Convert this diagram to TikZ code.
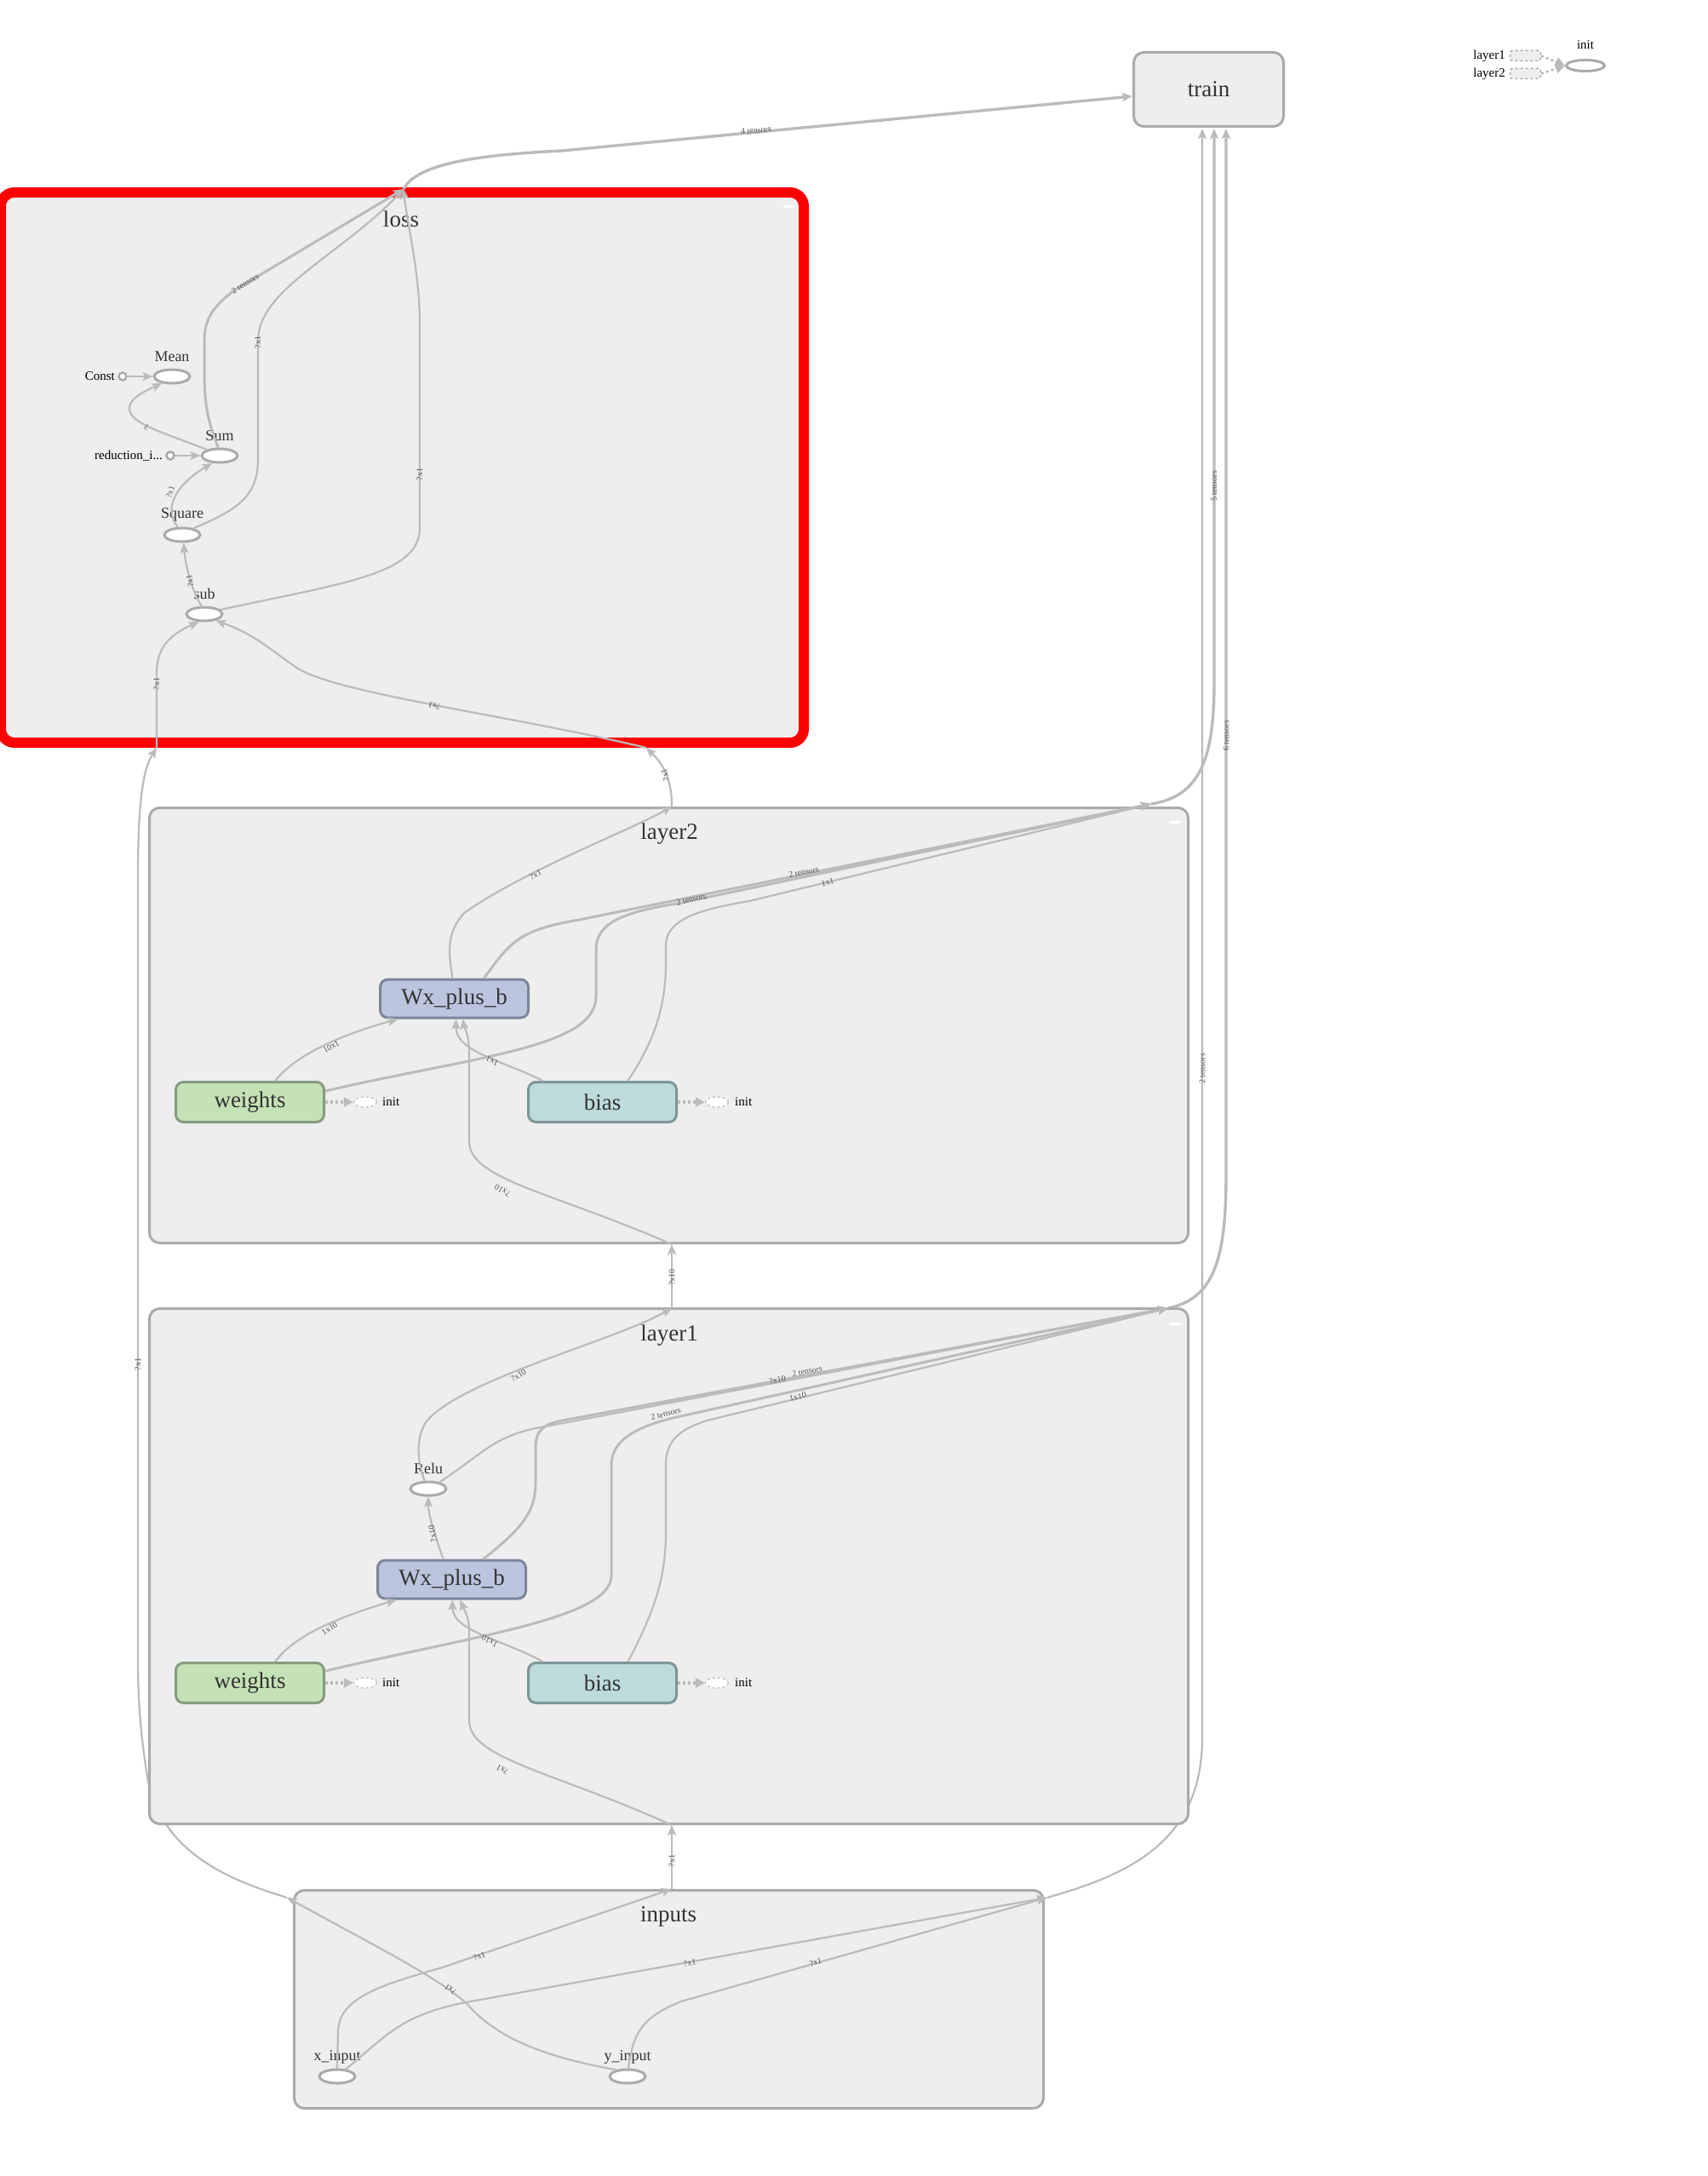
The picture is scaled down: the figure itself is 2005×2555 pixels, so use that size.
\documentclass[tikz,border=0pt]{standalone}
\usepackage{fontspec}
\setmainfont{Liberation Serif}
\usetikzlibrary{shapes.geometric,arrows.meta,calc}
\definecolor{grpfill}{HTML}{EEEEEE}
\definecolor{grpline}{HTML}{AAAAAA}
\definecolor{edgec}{HTML}{BBBBBB}
\definecolor{txt}{HTML}{333333}
\definecolor{elabc}{HTML}{555555}
\definecolor{wxfill}{HTML}{BBC5DE}
\definecolor{wxline}{HTML}{7C8599}
\definecolor{wfill}{HTML}{C5E2B6}
\definecolor{wline}{HTML}{879B7E}
\definecolor{bfill}{HTML}{BEDBDB}
\definecolor{bline}{HTML}{7E9696}
\definecolor{opline}{HTML}{AAAAAA}
\definecolor{initline}{HTML}{C8C8C8}
\begin{document}
\begin{tikzpicture}[x=1pt,y=-1pt,
  grpbox/.style={draw=grpline,fill=grpfill,line width=3pt,rounded corners=12pt,inner sep=0pt},
  grplbl/.style={text=txt,font=\fontsize{27}{30}\selectfont,inner sep=0pt},
  opnode/.style={ellipse,draw=opline,fill=white,line width=3pt,minimum width=42pt,minimum height=16pt,inner sep=0pt},
  oplbl/.style={text=txt,font=\fontsize{18}{20}\selectfont,inner sep=0pt},
  cstnode/.style={circle,draw=opline,fill=white,line width=2.5pt,minimum size=9pt,inner sep=0pt},
  smalltxt/.style={text=black,font=\fontsize{15}{17}\selectfont,inner sep=0pt},
  metanode/.style={rectangle,rounded corners=9pt,line width=3pt,minimum width=174pt,minimum height=45pt,
    text=txt,font=\fontsize{27}{30}\selectfont,inner sep=0pt},
  wxnode/.style={metanode,draw=wxline,fill=wxfill},
  wnode/.style={metanode,draw=wline,fill=wfill,minimum height=47pt},
  bnode/.style={metanode,draw=bline,fill=bfill,minimum height=47pt},
  initnode/.style={ellipse,draw=initline,fill=white,dashed,line width=1.5pt,minimum width=27pt,minimum height=12pt,inner sep=0pt},
  initconn/.style={draw=edgec,line width=3.5pt,dash pattern=on 3pt off 3pt,-{Triangle[length=11pt,width=11pt]}},
  conn/.style={draw=edgec,line width=2.2pt,-{Stealth[length=12pt,width=10pt,inset=2.5pt]}},
  conn2/.style={conn,line width=3pt},
  conn3/.style={conn,line width=3.4pt},
  elbl/.style={text=elabc,font=\fontsize{10}{11}\selectfont,inner sep=0pt},
  collapse/.style={draw=white,line width=3pt}
]
\useasboundingbox (0,0) rectangle (2005,2555);
\fill[white] (0,0) rectangle (2005,2555);

% ---------- boundary points of the groups ----------
\coordinate (lossTop) at (474,222);
\coordinate (lossInL) at (184,878);
\coordinate (lossInM) at (759,878);
\coordinate (l2Top) at (789,947);
\coordinate (l2Out) at (1352,944);
\coordinate (l2In) at (789,1461);
\coordinate (l1Top) at (789,1536);
\coordinate (l1Out) at (1372,1536);
\coordinate (l1In) at (789,2143);
\coordinate (inTop) at (789,2218);
\coordinate (inOutL) at (337,2228);
\coordinate (inOutR) at (1230,2228);
\coordinate (trainA) at (1412,151);
\coordinate (trainB) at (1426,151);
\coordinate (trainC) at (1440,151);
\coordinate (trainW) at (1330,113);

% ---------- long connectors that run behind the groups ----------
\draw[conn] (inOutL) .. controls (260,2205) and (185,2170) .. (172,2080)
  .. controls (166,2040) and (162,2000) .. (162,1950) -- (162,1030)
  .. controls (162,930) and (170,900) .. (lossInL);
\draw[conn] (inOutR) .. controls (1330,2200) and (1412,2160) .. (1412,2040) -- (trainA);
\draw[conn3] (l2Out) .. controls (1410,935) and (1426,890) .. (1426,800) -- (trainB);
\draw[conn3] (l1Out) .. controls (1425,1525) and (1440,1480) .. (1440,1380) -- (trainC);

% ---------- groups ----------
\node[grpbox,minimum width=176pt,minimum height=87pt,font=\fontsize{27}{30}\selectfont,text=txt] (train) at (1419.5,105) {train};
\node[draw=red,fill=grpfill,line width=12pt,rounded corners=16pt,minimum width=943pt,minimum height=646pt,inner sep=0pt] (loss) at (472.5,549) {};
\node[grpbox,minimum width=1220pt,minimum height=511pt] (layer2) at (785.5,1204) {};
\node[grpbox,minimum width=1220pt,minimum height=605pt] (layer1) at (785.5,1839) {};
\node[grpbox,minimum width=880pt,minimum height=256pt] (inputs) at (785.5,2347.5) {};

\node[grplbl] (losslbl) at (471,257) {loss};
\node[grplbl] (layer2lbl) at (786,979) {layer2};
\node[grplbl] (layer1lbl) at (786,1568) {layer1};
\node[grplbl] (inputslbl) at (785,2250) {inputs};

\draw[collapse] (920,243) -- (933,243);
\draw[collapse] (1373,965) -- (1386,965);
\draw[collapse] (1373,1554) -- (1386,1554);

% ---------- short connectors between groups ----------
\draw[conn3] (lossTop) .. controls (490,192) and (560,182) .. (660,177) -- (trainW);
\draw[conn] (l2Top) .. controls (789,920) and (782,900) .. (lossInM);
\draw[conn] (l1Top) -- (l2In);
\draw[conn] (inTop) -- (l1In);

% ---------- loss ----------
\node[opnode] (mean) at (202,442) {};
\node[oplbl] (meanlbl) at (202,419) {Mean};
\node[cstnode] (cnst) at (144,442) {};
\node[smalltxt,anchor=east] (cnstlbl) at (135,442) {Const};
\node[opnode] (sum) at (258,535) {};
\node[oplbl] (sumlbl) at (258,512) {Sum};
\node[cstnode] (redidx) at (200,535) {};
\node[smalltxt,anchor=east] (redidxlbl) at (191,535) {reduction\_i...};
\node[opnode] (square) at (214,628) {};
\node[oplbl] (squarelbl) at (214,604) {Square};
\node[opnode] (sub) at (240,721) {};
\node[oplbl] (sublbl) at (240,697) {sub};

\draw[conn] (cnst) -- (mean);
\draw[conn] (redidx) -- (sum);
\draw[conn] (sum.155) .. controls (190,507) and (150,497) .. (152,478)
  .. controls (153,468) and (168,460) .. (mean.215);
\draw[conn] (square.120) .. controls (192,598) and (205,570) .. (sum.225);
\draw[conn] (sub.110) .. controls (226,695) and (218,665) .. (square.-80);
\draw[conn2] (sum.100) .. controls (242,490) and (240,470) .. (240,430) -- (240,400)
  .. controls (240,375) and (250,360) .. (275,341) -- (lossTop);
\draw[conn] (square.30) .. controls (275,600) and (303,585) .. (303,540) -- (303,400)
  .. controls (303,340) and (400,300) .. (lossTop);
\draw[conn] (sub.15) .. controls (400,685) and (493,675) .. (493,620) -- (493,380)
  .. controls (493,320) and (478,262) .. (lossTop);
\draw[conn] (lossInL) -- (184,790) .. controls (184,760) and (200,745) .. (sub.235);
\draw[conn] (lossInM) .. controls (600,840) and (400,815) .. (350,785)
  .. controls (320,765) and (300,745) .. (sub.-30);

% ---------- layer2 ----------
\node[wxnode] (wx2) at (533.5,1172.5) {Wx\_plus\_b};
\node[wnode] (w2) at (293.5,1294) {weights};
\node[bnode] (b2) at (707.5,1294) {bias};
\node[initnode] (w2init) at (429,1294) {};
\node[initnode] (b2init) at (842,1294) {};
\node[smalltxt,anchor=west] (w2initlbl) at (449,1294) {init};
\node[smalltxt,anchor=west] (b2initlbl) at (863,1294) {init};
\draw[initconn] (w2) -- (w2init);
\draw[initconn] (b2) -- (b2init);

\draw[conn] ($(w2.north)+(30,0)$) .. controls (345,1240) and (400,1215) .. ($(wx2.south)+(-66,0)$);
\draw[conn] ($(b2.north)+(-70,0)$) .. controls (590,1245) and (535,1235) .. ($(wx2.south)+(2,0)$);
\draw[conn] (l2In) .. controls (650,1400) and (551,1385) .. (551,1340) -- (551,1235)
  .. controls (551,1215) and (545,1205) .. ($(wx2.south)+(10,0)$);
\draw[conn] ($(wx2.north)+(-2,0)$) .. controls (526,1115) and (525,1095) .. (545,1072)
  .. controls (620,1020) and (740,975) .. (l2Top);
\draw[conn2] ($(w2.east)+(0,-13)$) .. controls (560,1240) and (700,1230) .. (700,1170) -- (700,1115)
  .. controls (700,1080) and (740,1070) .. (800,1060) -- (l2Out);
\draw[conn2] ($(wx2.north)+(35,0)$) .. controls (600,1105) and (610,1092) .. (680,1080) -- (l2Out);
\draw[conn] ($(b2.north)+(30,0)$) .. controls (770,1220) and (782,1180) .. (782,1130) -- (782,1110)
  .. controls (782,1080) and (820,1068) .. (880,1058) -- (l2Out);

% ---------- layer1 ----------
\node[opnode] (relu) at (503,1748) {};
\node[oplbl] (relulbl) at (503,1724) {Relu};
\node[wxnode] (wx1) at (530.5,1854.5) {Wx\_plus\_b};
\node[wnode] (w1) at (293.5,1976) {weights};
\node[bnode] (b1) at (707.5,1976) {bias};
\node[initnode] (w1init) at (429,1976) {};
\node[initnode] (b1init) at (842,1976) {};
\node[smalltxt,anchor=west] (w1initlbl) at (449,1976) {init};
\node[smalltxt,anchor=west] (b1initlbl) at (863,1976) {init};
\draw[initconn] (w1) -- (w1init);
\draw[initconn] (b1) -- (b1init);

\draw[conn] ($(wx1.north)+(-10,0)$) .. controls (512,1805) and (503,1780) .. (relu.south);
\draw[conn] ($(w1.north)+(30,0)$) .. controls (345,1920) and (400,1898) .. ($(wx1.south)+(-65,0)$);
\draw[conn] ($(b1.north)+(-70,0)$) .. controls (590,1925) and (531,1915) .. ($(wx1.south)+(1,0)$);
\draw[conn] (l1In) .. controls (650,2080) and (551,2065) .. (551,2020) -- (551,1915)
  .. controls (551,1898) and (545,1890) .. ($(wx1.south)+(10,0)$);
\draw[conn] (relu.115) .. controls (490,1715) and (488,1690) .. (500,1670)
  .. controls (540,1620) and (720,1575) .. (l1Top);
\draw[conn] (relu.30) .. controls (570,1705) and (580,1685) .. (640,1675) -- (l1Out);
\draw[conn2] ($(wx1.north)+(37,0)$) .. controls (620,1790) and (629,1770) .. (629,1740) -- (629,1700)
  .. controls (629,1678) and (640,1672) .. (660,1668) -- (l1Out);
\draw[conn2] ($(w1.east)+(0,-14)$) .. controls (560,1920) and (718,1900) .. (718,1850) -- (718,1720)
  .. controls (718,1690) and (750,1675) .. (790,1665) -- (l1Out);
\draw[conn] ($(b1.north)+(30,0)$) .. controls (770,1890) and (782,1850) .. (782,1800) -- (782,1720)
  .. controls (782,1690) and (800,1678) .. (830,1668) -- (l1Out);

% ---------- inputs ----------
\node[opnode] (xin) at (396,2438) {};
\node[oplbl] (xinlbl) at (396,2415) {x\_input};
\node[opnode] (yin) at (737,2438) {};
\node[oplbl] (yinlbl) at (737,2415) {y\_input};

\draw[conn] (xin.north) -- (397,2385) .. controls (398,2345) and (450,2330) .. (520,2310) -- (inTop);
\draw[conn] (xin.40) .. controls (455,2390) and (470,2365) .. (553,2350) -- (inOutR);
\draw[conn] (yin.85) .. controls (744,2390) and (750,2370) .. (800,2350) -- (inOutR);
\draw[conn] (yin.150) .. controls (640,2415) and (590,2395) .. (555,2360)
  .. controls (530,2330) and (450,2290) .. (inOutL);

% ---------- connector labels ----------
\node[elbl,rotate=158] (e1) at (172,502) {?};
\node[elbl,rotate=72] (e2) at (200,578) {?x1};
\node[elbl,rotate=101] (e3) at (223,682) {?x1};
\node[elbl,rotate=31] (e4) at (288,333) {2 tensors};
\node[elbl,rotate=90] (e5) at (303,402) {?x1};
\node[elbl,rotate=90] (e6) at (493,557) {?x1};
\node[elbl,rotate=90] (e7) at (184,803) {?x1};
\node[elbl,rotate=164] (e8) at (510,829) {?x1};
\node[elbl,rotate=5.5] (e9) at (888,153) {4 tensors};
\node[elbl,rotate=105] (e10) at (781,910) {?x1};
\node[elbl,rotate=30] (e11) at (389,1229) {10x1};
\node[elbl,rotate=155] (e12) at (578,1246) {1x1};
\node[elbl,rotate=150] (e13) at (590,1398) {?x10};
\node[elbl,rotate=28] (e14) at (629,1027) {?x1};
\node[elbl,rotate=13] (e15) at (812,1056) {2 tensors};
\node[elbl,rotate=11] (e16) at (944,1024) {2 tensors};
\node[elbl,rotate=14] (e17) at (972,1036) {1x1};
\node[elbl,rotate=90] (e18) at (1426,571) {5 tensors};
\node[elbl,rotate=90] (e19) at (789,1500) {?x10};
\node[elbl,rotate=100] (e20) at (508,1801) {?x10};
\node[elbl,rotate=33] (e21) at (387,1912) {1x10};
\node[elbl,rotate=150] (e22) at (575,1927) {1x10};
\node[elbl,rotate=150] (e23) at (590,2078) {?x1};
\node[elbl,rotate=32] (e24) at (609,1615) {?x10};
\node[elbl,rotate=11] (e25) at (913,1620) {?x10};
\node[elbl,rotate=11] (e26) at (948,1610) {2 tensors};
\node[elbl,rotate=14] (e27) at (782,1660) {2 tensors};
\node[elbl,rotate=14] (e28) at (937,1640) {1x10};
\node[elbl,rotate=90] (e29) at (1440,864) {6 tensors};
\node[elbl,rotate=90] (e30) at (1412,1255) {2 tensors};
\node[elbl,rotate=90] (e31) at (162,1602) {?x1};
\node[elbl,rotate=90] (e32) at (789,2185) {?x1};
\node[elbl,rotate=19] (e33) at (563,2297) {?x1};
\node[elbl,rotate=10] (e34) at (810,2305) {?x1};
\node[elbl,rotate=15] (e35) at (958,2304) {?x1};
\node[elbl,rotate=145] (e36) at (529,2336) {?x1};

% ---------- legend ----------
\node[draw=grpline,fill=grpfill,dashed,line width=1.5pt,rounded corners=3pt,minimum width=36pt,minimum height=12pt,inner sep=0pt] (leg1) at (1791.5,65.5) {};
\node[draw=grpline,fill=grpfill,dashed,line width=1.5pt,rounded corners=3pt,minimum width=36pt,minimum height=12pt,inner sep=0pt] (leg2) at (1791.5,86.5) {};
\node[smalltxt,anchor=east] (leg1lbl) at (1768,66) {layer1};
\node[smalltxt,anchor=east] (leg2lbl) at (1768,87) {layer2};
\node[ellipse,draw=opline,fill=white,line width=3pt,minimum width=45pt,minimum height=13pt,inner sep=0pt] (leginit) at (1862,77) {};
\node[smalltxt] (leginitlbl) at (1862,53) {init};
\draw[initconn,line width=2.5pt] (leg1.east) -- (leginit.west);
\draw[initconn,line width=2.5pt] (leg2.east) -- (leginit.west);
\end{tikzpicture}
\end{document}
